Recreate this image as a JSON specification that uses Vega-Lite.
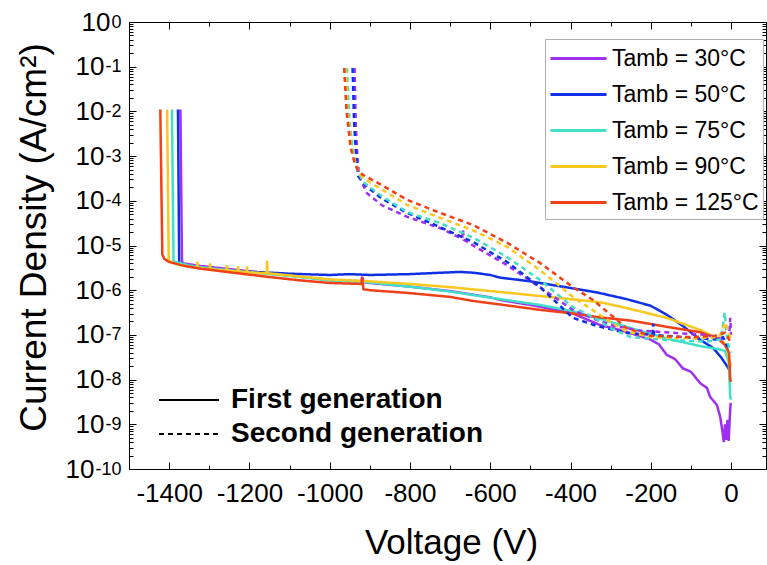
{
  "$schema": "https://vega.github.io/schema/vega-lite/v6.json",
  "width": 637,
  "height": 447,
  "autosize": {"type": "none"},
  "padding": {"left": 129, "top": 22, "right": 1, "bottom": 96},
  "background": "white",
  "config": {
    "view": {"stroke": null},
    "font": "Liberation Sans",
    "axis": {"grid": false, "domainColor": "black", "tickColor": "black", "labelColor": "black", "titleColor": "black", "labelFont": "Liberation Sans", "titleFont": "Liberation Sans", "labelFlush": false, "labelOverlap": false, "titleFontWeight": "normal"}
  },
  "data": {
    "values": [
      {"V": -1372, "J": 1.1e-2, "T": "30°C", "G": "First generation"},
      {"V": -1368, "J": 4.47e-6, "T": "30°C", "G": "First generation"},
      {"V": -1365, "J": 3.98e-6, "T": "30°C", "G": "First generation"},
      {"V": -1321, "J": 3.47e-6, "T": "30°C", "G": "First generation"},
      {"V": -1248, "J": 2.95e-6, "T": "30°C", "G": "First generation"},
      {"V": -1156, "J": 2.4e-6, "T": "30°C", "G": "First generation"},
      {"V": -1074, "J": 2.0e-6, "T": "30°C", "G": "First generation"},
      {"V": -999, "J": 1.7e-6, "T": "30°C", "G": "First generation"},
      {"V": -921, "J": 1.58e-6, "T": "30°C", "G": "First generation"},
      {"V": -919, "J": 2.0e-6, "T": "30°C", "G": "First generation"},
      {"V": -915, "J": 1.51e-6, "T": "30°C", "G": "First generation"},
      {"V": -900, "J": 1.45e-6, "T": "30°C", "G": "First generation"},
      {"V": -800, "J": 1.2e-6, "T": "30°C", "G": "First generation"},
      {"V": -700, "J": 9.55e-7, "T": "30°C", "G": "First generation"},
      {"V": -600, "J": 6.92e-7, "T": "30°C", "G": "First generation"},
      {"V": -575, "J": 6.03e-7, "T": "30°C", "G": "First generation"},
      {"V": -500, "J": 4.68e-7, "T": "30°C", "G": "First generation"},
      {"V": -400, "J": 3.16e-7, "T": "30°C", "G": "First generation"},
      {"V": -326, "J": 1.66e-7, "T": "30°C", "G": "First generation"},
      {"V": -260, "J": 1.17e-7, "T": "30°C", "G": "First generation"},
      {"V": -202, "J": 7.94e-8, "T": "30°C", "G": "First generation"},
      {"V": -180, "J": 6.2e-8, "T": "30°C", "G": "First generation"},
      {"V": -160, "J": 3.55e-8, "T": "30°C", "G": "First generation"},
      {"V": -140, "J": 2.9e-8, "T": "30°C", "G": "First generation"},
      {"V": -120, "J": 1.78e-8, "T": "30°C", "G": "First generation"},
      {"V": -100, "J": 1.5e-8, "T": "30°C", "G": "First generation"},
      {"V": -77, "J": 8.32e-9, "T": "30°C", "G": "First generation"},
      {"V": -60, "J": 6.5e-9, "T": "30°C", "G": "First generation"},
      {"V": -52, "J": 4.07e-9, "T": "30°C", "G": "First generation"},
      {"V": -35, "J": 2.69e-9, "T": "30°C", "G": "First generation"},
      {"V": -27, "J": 1.45e-9, "T": "30°C", "G": "First generation"},
      {"V": -22, "J": 7.41e-10, "T": "30°C", "G": "First generation"},
      {"V": -18, "J": 3.98e-10, "T": "30°C", "G": "First generation"},
      {"V": -15, "J": 1.0e-9, "T": "30°C", "G": "First generation"},
      {"V": -12, "J": 4.47e-10, "T": "30°C", "G": "First generation"},
      {"V": -9, "J": 1.26e-9, "T": "30°C", "G": "First generation"},
      {"V": -6, "J": 4.27e-10, "T": "30°C", "G": "First generation"},
      {"V": -3, "J": 1.58e-9, "T": "30°C", "G": "First generation"},
      {"V": -1, "J": 3.02e-9, "T": "30°C", "G": "First generation"},

      {"V": -1378, "J": 1.1e-2, "T": "50°C", "G": "First generation"},
      {"V": -1375, "J": 4.17e-6, "T": "50°C", "G": "First generation"},
      {"V": -1365, "J": 3.72e-6, "T": "50°C", "G": "First generation"},
      {"V": -1321, "J": 3.16e-6, "T": "50°C", "G": "First generation"},
      {"V": -1248, "J": 2.69e-6, "T": "50°C", "G": "First generation"},
      {"V": -1166, "J": 2.51e-6, "T": "50°C", "G": "First generation"},
      {"V": -1100, "J": 2.34e-6, "T": "50°C", "G": "First generation"},
      {"V": -1000, "J": 2.19e-6, "T": "50°C", "G": "First generation"},
      {"V": -950, "J": 2.29e-6, "T": "50°C", "G": "First generation"},
      {"V": -900, "J": 2.19e-6, "T": "50°C", "G": "First generation"},
      {"V": -850, "J": 2.24e-6, "T": "50°C", "G": "First generation"},
      {"V": -800, "J": 2.29e-6, "T": "50°C", "G": "First generation"},
      {"V": -750, "J": 2.4e-6, "T": "50°C", "G": "First generation"},
      {"V": -700, "J": 2.51e-6, "T": "50°C", "G": "First generation"},
      {"V": -675, "J": 2.57e-6, "T": "50°C", "G": "First generation"},
      {"V": -640, "J": 2.45e-6, "T": "50°C", "G": "First generation"},
      {"V": -600, "J": 2.19e-6, "T": "50°C", "G": "First generation"},
      {"V": -575, "J": 1.91e-6, "T": "50°C", "G": "First generation"},
      {"V": -500, "J": 1.58e-6, "T": "50°C", "G": "First generation"},
      {"V": -476, "J": 1.45e-6, "T": "50°C", "G": "First generation"},
      {"V": -400, "J": 1.12e-6, "T": "50°C", "G": "First generation"},
      {"V": -334, "J": 8.91e-7, "T": "50°C", "G": "First generation"},
      {"V": -260, "J": 6.31e-7, "T": "50°C", "G": "First generation"},
      {"V": -200, "J": 4.47e-7, "T": "50°C", "G": "First generation"},
      {"V": -160, "J": 2.82e-7, "T": "50°C", "G": "First generation"},
      {"V": -120, "J": 1.58e-7, "T": "50°C", "G": "First generation"},
      {"V": -77, "J": 7.76e-8, "T": "50°C", "G": "First generation"},
      {"V": -45, "J": 5.13e-8, "T": "50°C", "G": "First generation"},
      {"V": -25, "J": 3.16e-8, "T": "50°C", "G": "First generation"},
      {"V": -10, "J": 2.0e-8, "T": "50°C", "G": "First generation"},
      {"V": -4, "J": 1.62e-8, "T": "50°C", "G": "First generation"},

      {"V": -1393, "J": 1.1e-2, "T": "75°C", "G": "First generation"},
      {"V": -1389, "J": 4.37e-6, "T": "75°C", "G": "First generation"},
      {"V": -1350, "J": 3.55e-6, "T": "75°C", "G": "First generation"},
      {"V": -1300, "J": 3.09e-6, "T": "75°C", "G": "First generation"},
      {"V": -1200, "J": 2.51e-6, "T": "75°C", "G": "First generation"},
      {"V": -1100, "J": 2.09e-6, "T": "75°C", "G": "First generation"},
      {"V": -1000, "J": 1.66e-6, "T": "75°C", "G": "First generation"},
      {"V": -920, "J": 1.55e-6, "T": "75°C", "G": "First generation"},
      {"V": -800, "J": 1.2e-6, "T": "75°C", "G": "First generation"},
      {"V": -700, "J": 9.33e-7, "T": "75°C", "G": "First generation"},
      {"V": -575, "J": 6.31e-7, "T": "75°C", "G": "First generation"},
      {"V": -476, "J": 4.68e-7, "T": "75°C", "G": "First generation"},
      {"V": -400, "J": 3.47e-7, "T": "75°C", "G": "First generation"},
      {"V": -326, "J": 2.29e-7, "T": "75°C", "G": "First generation"},
      {"V": -260, "J": 1.51e-7, "T": "75°C", "G": "First generation"},
      {"V": -160, "J": 8.32e-8, "T": "75°C", "G": "First generation"},
      {"V": -77, "J": 5.62e-8, "T": "75°C", "G": "First generation"},
      {"V": -30, "J": 4.79e-8, "T": "75°C", "G": "First generation"},
      {"V": -15, "J": 4.37e-8, "T": "75°C", "G": "First generation"},
      {"V": -6, "J": 2.51e-8, "T": "75°C", "G": "First generation"},
      {"V": -2, "J": 4.07e-9, "T": "75°C", "G": "First generation"},
      {"V": 0, "J": 3.55e-9, "T": "75°C", "G": "First generation"},

      {"V": -1405, "J": 1.1e-2, "T": "90°C", "G": "First generation"},
      {"V": -1401, "J": 4.57e-6, "T": "90°C", "G": "First generation"},
      {"V": -1380, "J": 3.8e-6, "T": "90°C", "G": "First generation"},
      {"V": -1340, "J": 3.24e-6, "T": "90°C", "G": "First generation"},
      {"V": -1331, "J": 3.16e-6, "T": "90°C", "G": "First generation"},
      {"V": -1330, "J": 4.37e-6, "T": "90°C", "G": "First generation"},
      {"V": -1329, "J": 3.16e-6, "T": "90°C", "G": "First generation"},
      {"V": -1299, "J": 2.95e-6, "T": "90°C", "G": "First generation"},
      {"V": -1298, "J": 3.98e-6, "T": "90°C", "G": "First generation"},
      {"V": -1297, "J": 2.95e-6, "T": "90°C", "G": "First generation"},
      {"V": -1257, "J": 2.75e-6, "T": "90°C", "G": "First generation"},
      {"V": -1256, "J": 3.63e-6, "T": "90°C", "G": "First generation"},
      {"V": -1255, "J": 2.75e-6, "T": "90°C", "G": "First generation"},
      {"V": -1229, "J": 2.63e-6, "T": "90°C", "G": "First generation"},
      {"V": -1228, "J": 3.47e-6, "T": "90°C", "G": "First generation"},
      {"V": -1227, "J": 2.63e-6, "T": "90°C", "G": "First generation"},
      {"V": -1207, "J": 2.51e-6, "T": "90°C", "G": "First generation"},
      {"V": -1206, "J": 3.39e-6, "T": "90°C", "G": "First generation"},
      {"V": -1205, "J": 2.51e-6, "T": "90°C", "G": "First generation"},
      {"V": -1157, "J": 2.4e-6, "T": "90°C", "G": "First generation"},
      {"V": -1156, "J": 4.57e-6, "T": "90°C", "G": "First generation"},
      {"V": -1155, "J": 2.4e-6, "T": "90°C", "G": "First generation"},
      {"V": -1100, "J": 2.14e-6, "T": "90°C", "G": "First generation"},
      {"V": -1000, "J": 1.74e-6, "T": "90°C", "G": "First generation"},
      {"V": -920, "J": 1.62e-6, "T": "90°C", "G": "First generation"},
      {"V": -800, "J": 1.38e-6, "T": "90°C", "G": "First generation"},
      {"V": -700, "J": 1.17e-6, "T": "90°C", "G": "First generation"},
      {"V": -575, "J": 9.12e-7, "T": "90°C", "G": "First generation"},
      {"V": -476, "J": 7.41e-7, "T": "90°C", "G": "First generation"},
      {"V": -400, "J": 6.31e-7, "T": "90°C", "G": "First generation"},
      {"V": -326, "J": 5.37e-7, "T": "90°C", "G": "First generation"},
      {"V": -260, "J": 3.98e-7, "T": "90°C", "G": "First generation"},
      {"V": -160, "J": 2.4e-7, "T": "90°C", "G": "First generation"},
      {"V": -77, "J": 1.29e-7, "T": "90°C", "G": "First generation"},
      {"V": -27, "J": 7.94e-8, "T": "90°C", "G": "First generation"},
      {"V": -10, "J": 5.62e-8, "T": "90°C", "G": "First generation"},
      {"V": -4, "J": 2.51e-8, "T": "90°C", "G": "First generation"},
      {"V": 0, "J": 2.0e-8, "T": "90°C", "G": "First generation"},

      {"V": -1422, "J": 1.1e-2, "T": "125°C", "G": "First generation"},
      {"V": -1417, "J": 6.31e-6, "T": "125°C", "G": "First generation"},
      {"V": -1412, "J": 5.01e-6, "T": "125°C", "G": "First generation"},
      {"V": -1400, "J": 4.27e-6, "T": "125°C", "G": "First generation"},
      {"V": -1365, "J": 3.55e-6, "T": "125°C", "G": "First generation"},
      {"V": -1321, "J": 3.02e-6, "T": "125°C", "G": "First generation"},
      {"V": -1248, "J": 2.51e-6, "T": "125°C", "G": "First generation"},
      {"V": -1156, "J": 2.0e-6, "T": "125°C", "G": "First generation"},
      {"V": -1074, "J": 1.66e-6, "T": "125°C", "G": "First generation"},
      {"V": -999, "J": 1.45e-6, "T": "125°C", "G": "First generation"},
      {"V": -921, "J": 1.38e-6, "T": "125°C", "G": "First generation"},
      {"V": -919, "J": 1.91e-6, "T": "125°C", "G": "First generation"},
      {"V": -916, "J": 1.05e-6, "T": "125°C", "G": "First generation"},
      {"V": -900, "J": 1.0e-6, "T": "125°C", "G": "First generation"},
      {"V": -807, "J": 8.71e-7, "T": "125°C", "G": "First generation"},
      {"V": -700, "J": 7.08e-7, "T": "125°C", "G": "First generation"},
      {"V": -643, "J": 5.75e-7, "T": "125°C", "G": "First generation"},
      {"V": -575, "J": 4.79e-7, "T": "125°C", "G": "First generation"},
      {"V": -476, "J": 3.63e-7, "T": "125°C", "G": "First generation"},
      {"V": -394, "J": 3.02e-7, "T": "125°C", "G": "First generation"},
      {"V": -334, "J": 2.51e-7, "T": "125°C", "G": "First generation"},
      {"V": -250, "J": 2.09e-7, "T": "125°C", "G": "First generation"},
      {"V": -159, "J": 1.51e-7, "T": "125°C", "G": "First generation"},
      {"V": -77, "J": 1.15e-7, "T": "125°C", "G": "First generation"},
      {"V": -30, "J": 7.94e-8, "T": "125°C", "G": "First generation"},
      {"V": -15, "J": 5.89e-8, "T": "125°C", "G": "First generation"},
      {"V": -5, "J": 3.98e-8, "T": "125°C", "G": "First generation"},
      {"V": -2, "J": 1.0e-8, "T": "125°C", "G": "First generation"},
      {"V": 0, "J": 8.91e-9, "T": "125°C", "G": "First generation"},

      {"V": -938, "J": 9.33e-2, "T": "30°C", "G": "Second generation"},
      {"V": -935, "J": 5.01e-3, "T": "30°C", "G": "Second generation"},
      {"V": -931, "J": 1.0e-3, "T": "30°C", "G": "Second generation"},
      {"V": -927, "J": 3.55e-4, "T": "30°C", "G": "Second generation"},
      {"V": -907, "J": 1.48e-4, "T": "30°C", "G": "Second generation"},
      {"V": -870, "J": 7.94e-5, "T": "30°C", "G": "Second generation"},
      {"V": -807, "J": 4.37e-5, "T": "30°C", "G": "Second generation"},
      {"V": -725, "J": 2.45e-5, "T": "30°C", "G": "Second generation"},
      {"V": -670, "J": 1.41e-5, "T": "30°C", "G": "Second generation"},
      {"V": -668, "J": 2.24e-5, "T": "30°C", "G": "Second generation"},
      {"V": -666, "J": 1.35e-5, "T": "30°C", "G": "Second generation"},
      {"V": -643, "J": 1.0e-5, "T": "30°C", "G": "Second generation"},
      {"V": -558, "J": 3.63e-6, "T": "30°C", "G": "Second generation"},
      {"V": -476, "J": 1.17e-6, "T": "30°C", "G": "Second generation"},
      {"V": -394, "J": 3.63e-7, "T": "30°C", "G": "Second generation"},
      {"V": -334, "J": 2.14e-7, "T": "30°C", "G": "Second generation"},
      {"V": -290, "J": 1.58e-7, "T": "30°C", "G": "Second generation"},
      {"V": -230, "J": 1.26e-7, "T": "30°C", "G": "Second generation"},
      {"V": -150, "J": 1.12e-7, "T": "30°C", "G": "Second generation"},
      {"V": -60, "J": 1.0e-7, "T": "30°C", "G": "Second generation"},
      {"V": -20, "J": 7.94e-8, "T": "30°C", "G": "Second generation"},
      {"V": -5, "J": 8.91e-8, "T": "30°C", "G": "Second generation"},
      {"V": -2, "J": 2.4e-7, "T": "30°C", "G": "Second generation"},
      {"V": 0, "J": 1.0e-7, "T": "30°C", "G": "Second generation"},

      {"V": -943, "J": 9.33e-2, "T": "50°C", "G": "Second generation"},
      {"V": -939, "J": 5.01e-3, "T": "50°C", "G": "Second generation"},
      {"V": -934, "J": 1.0e-3, "T": "50°C", "G": "Second generation"},
      {"V": -929, "J": 3.55e-4, "T": "50°C", "G": "Second generation"},
      {"V": -907, "J": 2.04e-4, "T": "50°C", "G": "Second generation"},
      {"V": -870, "J": 1.12e-4, "T": "50°C", "G": "Second generation"},
      {"V": -807, "J": 5.37e-5, "T": "50°C", "G": "Second generation"},
      {"V": -725, "J": 2.57e-5, "T": "50°C", "G": "Second generation"},
      {"V": -643, "J": 1.2e-5, "T": "50°C", "G": "Second generation"},
      {"V": -558, "J": 4.27e-6, "T": "50°C", "G": "Second generation"},
      {"V": -476, "J": 1.17e-6, "T": "50°C", "G": "Second generation"},
      {"V": -433, "J": 5.13e-7, "T": "50°C", "G": "Second generation"},
      {"V": -394, "J": 2.4e-7, "T": "50°C", "G": "Second generation"},
      {"V": -334, "J": 1.58e-7, "T": "50°C", "G": "Second generation"},
      {"V": -259, "J": 1.1e-7, "T": "50°C", "G": "Second generation"},
      {"V": -196, "J": 1.0e-7, "T": "50°C", "G": "Second generation"},
      {"V": -194, "J": 1.78e-7, "T": "50°C", "G": "Second generation"},
      {"V": -192, "J": 1.0e-7, "T": "50°C", "G": "Second generation"},
      {"V": -120, "J": 8.91e-8, "T": "50°C", "G": "Second generation"},
      {"V": -40, "J": 7.94e-8, "T": "50°C", "G": "Second generation"},
      {"V": -20, "J": 8.91e-8, "T": "50°C", "G": "Second generation"},
      {"V": -10, "J": 5.62e-8, "T": "50°C", "G": "Second generation"},
      {"V": 0, "J": 5.01e-8, "T": "50°C", "G": "Second generation"},

      {"V": -957, "J": 9.33e-2, "T": "75°C", "G": "Second generation"},
      {"V": -951, "J": 6.31e-3, "T": "75°C", "G": "Second generation"},
      {"V": -941, "J": 1.12e-3, "T": "75°C", "G": "Second generation"},
      {"V": -932, "J": 5.01e-4, "T": "75°C", "G": "Second generation"},
      {"V": -925, "J": 3.8e-4, "T": "75°C", "G": "Second generation"},
      {"V": -917, "J": 2.63e-4, "T": "75°C", "G": "Second generation"},
      {"V": -870, "J": 1.26e-4, "T": "75°C", "G": "Second generation"},
      {"V": -807, "J": 5.62e-5, "T": "75°C", "G": "Second generation"},
      {"V": -725, "J": 3.16e-5, "T": "75°C", "G": "Second generation"},
      {"V": -643, "J": 1.51e-5, "T": "75°C", "G": "Second generation"},
      {"V": -558, "J": 5.5e-6, "T": "75°C", "G": "Second generation"},
      {"V": -476, "J": 1.7e-6, "T": "75°C", "G": "Second generation"},
      {"V": -394, "J": 4.17e-7, "T": "75°C", "G": "Second generation"},
      {"V": -344, "J": 2.51e-7, "T": "75°C", "G": "Second generation"},
      {"V": -300, "J": 1.41e-7, "T": "75°C", "G": "Second generation"},
      {"V": -250, "J": 8.91e-8, "T": "75°C", "G": "Second generation"},
      {"V": -150, "J": 7.59e-8, "T": "75°C", "G": "Second generation"},
      {"V": -60, "J": 7.08e-8, "T": "75°C", "G": "Second generation"},
      {"V": -25, "J": 7.94e-8, "T": "75°C", "G": "Second generation"},
      {"V": -16, "J": 3.16e-7, "T": "75°C", "G": "Second generation"},
      {"V": -11, "J": 1.0e-7, "T": "75°C", "G": "Second generation"},
      {"V": -5, "J": 5.01e-8, "T": "75°C", "G": "Second generation"},
      {"V": 0, "J": 3.98e-8, "T": "75°C", "G": "Second generation"},

      {"V": -961, "J": 9.33e-2, "T": "90°C", "G": "Second generation"},
      {"V": -955, "J": 7.94e-3, "T": "90°C", "G": "Second generation"},
      {"V": -945, "J": 1.41e-3, "T": "90°C", "G": "Second generation"},
      {"V": -935, "J": 6.31e-4, "T": "90°C", "G": "Second generation"},
      {"V": -927, "J": 4.37e-4, "T": "90°C", "G": "Second generation"},
      {"V": -917, "J": 3.24e-4, "T": "90°C", "G": "Second generation"},
      {"V": -870, "J": 1.78e-4, "T": "90°C", "G": "Second generation"},
      {"V": -807, "J": 8.13e-5, "T": "90°C", "G": "Second generation"},
      {"V": -725, "J": 4.17e-5, "T": "90°C", "G": "Second generation"},
      {"V": -643, "J": 2.19e-5, "T": "90°C", "G": "Second generation"},
      {"V": -558, "J": 9.33e-6, "T": "90°C", "G": "Second generation"},
      {"V": -476, "J": 2.82e-6, "T": "90°C", "G": "Second generation"},
      {"V": -394, "J": 7.08e-7, "T": "90°C", "G": "Second generation"},
      {"V": -344, "J": 3.55e-7, "T": "90°C", "G": "Second generation"},
      {"V": -300, "J": 1.91e-7, "T": "90°C", "G": "Second generation"},
      {"V": -260, "J": 1.2e-7, "T": "90°C", "G": "Second generation"},
      {"V": -200, "J": 8.91e-8, "T": "90°C", "G": "Second generation"},
      {"V": -100, "J": 8.32e-8, "T": "90°C", "G": "Second generation"},
      {"V": -30, "J": 8.91e-8, "T": "90°C", "G": "Second generation"},
      {"V": -14, "J": 1.91e-7, "T": "90°C", "G": "Second generation"},
      {"V": -8, "J": 1.26e-7, "T": "90°C", "G": "Second generation"},
      {"V": 0, "J": 7.94e-8, "T": "90°C", "G": "Second generation"},

      {"V": -964, "J": 9.33e-2, "T": "125°C", "G": "Second generation"},
      {"V": -958, "J": 1.0e-2, "T": "125°C", "G": "Second generation"},
      {"V": -948, "J": 1.58e-3, "T": "125°C", "G": "Second generation"},
      {"V": -938, "J": 7.08e-4, "T": "125°C", "G": "Second generation"},
      {"V": -929, "J": 4.68e-4, "T": "125°C", "G": "Second generation"},
      {"V": -917, "J": 3.8e-4, "T": "125°C", "G": "Second generation"},
      {"V": -870, "J": 2.24e-4, "T": "125°C", "G": "Second generation"},
      {"V": -807, "J": 1.05e-4, "T": "125°C", "G": "Second generation"},
      {"V": -725, "J": 5.37e-5, "T": "125°C", "G": "Second generation"},
      {"V": -643, "J": 2.88e-5, "T": "125°C", "G": "Second generation"},
      {"V": -558, "J": 1.15e-5, "T": "125°C", "G": "Second generation"},
      {"V": -476, "J": 4.07e-6, "T": "125°C", "G": "Second generation"},
      {"V": -394, "J": 1.17e-6, "T": "125°C", "G": "Second generation"},
      {"V": -344, "J": 6.03e-7, "T": "125°C", "G": "Second generation"},
      {"V": -300, "J": 2.82e-7, "T": "125°C", "G": "Second generation"},
      {"V": -260, "J": 1.41e-7, "T": "125°C", "G": "Second generation"},
      {"V": -200, "J": 9.55e-8, "T": "125°C", "G": "Second generation"},
      {"V": -100, "J": 8.91e-8, "T": "125°C", "G": "Second generation"},
      {"V": -40, "J": 9.55e-8, "T": "125°C", "G": "Second generation"},
      {"V": -15, "J": 1.12e-7, "T": "125°C", "G": "Second generation"},
      {"V": -5, "J": 7.94e-8, "T": "125°C", "G": "Second generation"},
      {"V": 0, "J": 6.31e-8, "T": "125°C", "G": "Second generation"}
    ]
  },
  "layer": [
    {
      "mark": {"type": "line", "strokeWidth": 2.5, "clip": true},
      "encoding": {
        "x": {
          "field": "V", "type": "quantitative",
          "scale": {"domain": [-1500, 87], "nice": false, "zero": false},
          "axis": {
            "orient": "bottom",
            "values": [-1400, -1200, -1000, -800, -600, -400, -200, 0],
            "labelExpr": "datum.value == 0 ? '0' : '-' + abs(datum.value)",
            "tickSize": -7, "labelPadding": 18, "labelFontSize": 26,
            "title": "Voltage (V)", "titleFontSize": 35,
            "titleX": 322, "titleY": 84, "titleBaseline": "alphabetic", "titleAlign": "center"
          }
        },
        "y": {
          "field": "J", "type": "quantitative",
          "scale": {"type": "log", "domain": [1e-10, 1], "nice": false},
          "axis": {
            "orient": "left",
            "values": [1e-10, 1e-9, 1e-8, 1e-7, 1e-6, 1e-5, 1e-4, 1e-3, 1e-2, 1e-1, 1],
            "labelExpr": "'10'",
            "tickSize": -7, "labelFontSize": 26, "labelDy": 2,
            "labelPadding": {"condition": [{"test": "datum.value == 1", "value": 26}, {"test": "datum.value < 5e-10", "value": 42}], "value": 32},
            "title": "Current Density (A/cm²)", "titleFontSize": 37,
            "titleX": -84, "titleY": 215, "titleBaseline": "alphabetic", "titleAlign": "center", "titleAngle": 270
          }
        },
        "color": {
          "field": "T", "type": "nominal",
          "scale": {"domain": ["30°C", "50°C", "75°C", "90°C", "125°C"], "range": ["#a030f0", "#1030e8", "#40e0c8", "#f8c820", "#f04018"]},
          "legend": {
            "orient": "none", "legendX": 416, "legendY": 17, "title": null,
            "symbolType": "M-1,0H3", "symbolSize": 784, "symbolStrokeWidth": 3,
            "labelExpr": "'Tamb = ' + datum.label", "labelFontSize": 23, "labelFont": "Liberation Sans", "labelColor": "black",
            "labelOffset": 32, "rowPadding": 8, "padding": 4, "strokeColor": "#b0b0b0", "fillColor": "white", "labelLimit": 300
          }
        },
        "strokeDash": {
          "field": "G", "type": "nominal",
          "scale": {"domain": ["First generation", "Second generation"], "range": [[1, 0], [5, 4]]},
          "legend": {
            "orient": "none", "legendX": 29, "legendY": 362, "title": null,
            "symbolType": "M-1,0H3", "symbolSize": 900, "symbolStrokeWidth": 2, "symbolStrokeColor": "black",
            "labelFontSize": 28, "labelFontWeight": "bold", "labelFont": "Liberation Sans", "labelColor": "black",
            "labelOffset": 41, "rowPadding": 4, "padding": 0, "labelLimit": 400
          }
        }
      }
    },
    {
      "mark": {"type": "point", "opacity": 0},
      "encoding": {
        "x": {"field": "V", "type": "quantitative", "axis": {"orient": "top", "values": [-1400, -1200, -1000, -800, -600, -400, -200, 0], "tickSize": -7, "labels": false, "title": null}},
        "y": {"field": "J", "type": "quantitative", "scale": {"type": "log"},
          "axis": {"orient": "left", "values": [1e-10, 1e-9, 1e-8, 1e-7, 1e-6, 1e-5, 1e-4, 1e-3, 1e-2, 1e-1, 1],
            "labelExpr": "datum.value == 1 ? '0' : '-' + round(-log(datum.value)/LN10)",
            "tickSize": -7, "tickOpacity": 0, "domain": false, "labelFontSize": 18, "labelPadding": 15, "labelDy": -8, "labelAlign": "right", "title": null}}
      }
    },
    {
      "mark": {"type": "point", "opacity": 0},
      "encoding": {
        "x": {"field": "V", "type": "quantitative", "axis": {"orient": "bottom", "values": [-1500, -1300, -1100, -900, -700, -500, -300, -100], "tickSize": -4, "labels": false, "domain": false, "title": null}},
        "y": {"field": "J", "type": "quantitative", "scale": {"type": "log"},
          "axis": {"orient": "left", "values": [2e-10, 3e-10, 4e-10, 5e-10, 6e-10, 7e-10, 8e-10, 9e-10, 2e-9, 3e-9, 4e-9, 5e-9, 6e-9, 7e-9, 8e-9, 9e-9, 2e-8, 3e-8, 4e-8, 5e-8, 6e-8, 7e-8, 8e-8, 9e-8, 2e-7, 3e-7, 4e-7, 5e-7, 6e-7, 7e-7, 8e-7, 9e-7, 2e-6, 3e-6, 4e-6, 5e-6, 6e-6, 7e-6, 8e-6, 9e-6, 2e-5, 3e-5, 4e-5, 5e-5, 6e-5, 7e-5, 8e-5, 9e-5, 2e-4, 3e-4, 4e-4, 5e-4, 6e-4, 7e-4, 8e-4, 9e-4, 2e-3, 3e-3, 4e-3, 5e-3, 6e-3, 7e-3, 8e-3, 9e-3, 2e-2, 3e-2, 4e-2, 5e-2, 6e-2, 7e-2, 8e-2, 9e-2, 0.2, 0.3, 0.4, 0.5, 0.6, 0.7, 0.8, 0.9],
            "tickSize": -4, "labels": false, "domain": false, "title": null}}
      }
    },
    {
      "mark": {"type": "point", "opacity": 0},
      "encoding": {
        "x": {"field": "V", "type": "quantitative", "axis": {"orient": "top", "values": [-1500, -1300, -1100, -900, -700, -500, -300, -100], "tickSize": -4, "labels": false, "domain": false, "title": null}},
        "y": {"field": "J", "type": "quantitative", "scale": {"type": "log"},
          "axis": {"orient": "right", "values": [1e-10, 1e-9, 1e-8, 1e-7, 1e-6, 1e-5, 1e-4, 1e-3, 1e-2, 1e-1, 1], "tickSize": -7, "labels": false, "title": null}}
      }
    },
    {
      "mark": {"type": "point", "opacity": 0},
      "encoding": {
        "x": {"field": "V", "type": "quantitative", "axis": null},
        "y": {"field": "J", "type": "quantitative", "scale": {"type": "log"},
          "axis": {"orient": "right", "values": [2e-10, 3e-10, 4e-10, 5e-10, 6e-10, 7e-10, 8e-10, 9e-10, 2e-9, 3e-9, 4e-9, 5e-9, 6e-9, 7e-9, 8e-9, 9e-9, 2e-8, 3e-8, 4e-8, 5e-8, 6e-8, 7e-8, 8e-8, 9e-8, 2e-7, 3e-7, 4e-7, 5e-7, 6e-7, 7e-7, 8e-7, 9e-7, 2e-6, 3e-6, 4e-6, 5e-6, 6e-6, 7e-6, 8e-6, 9e-6, 2e-5, 3e-5, 4e-5, 5e-5, 6e-5, 7e-5, 8e-5, 9e-5, 2e-4, 3e-4, 4e-4, 5e-4, 6e-4, 7e-4, 8e-4, 9e-4, 2e-3, 3e-3, 4e-3, 5e-3, 6e-3, 7e-3, 8e-3, 9e-3, 2e-2, 3e-2, 4e-2, 5e-2, 6e-2, 7e-2, 8e-2, 9e-2, 0.2, 0.3, 0.4, 0.5, 0.6, 0.7, 0.8, 0.9],
            "tickSize": -4, "labels": false, "domain": false, "title": null}}
      }
    }
  ],
  "resolve": {"axis": {"x": "independent", "y": "independent"}}
}
